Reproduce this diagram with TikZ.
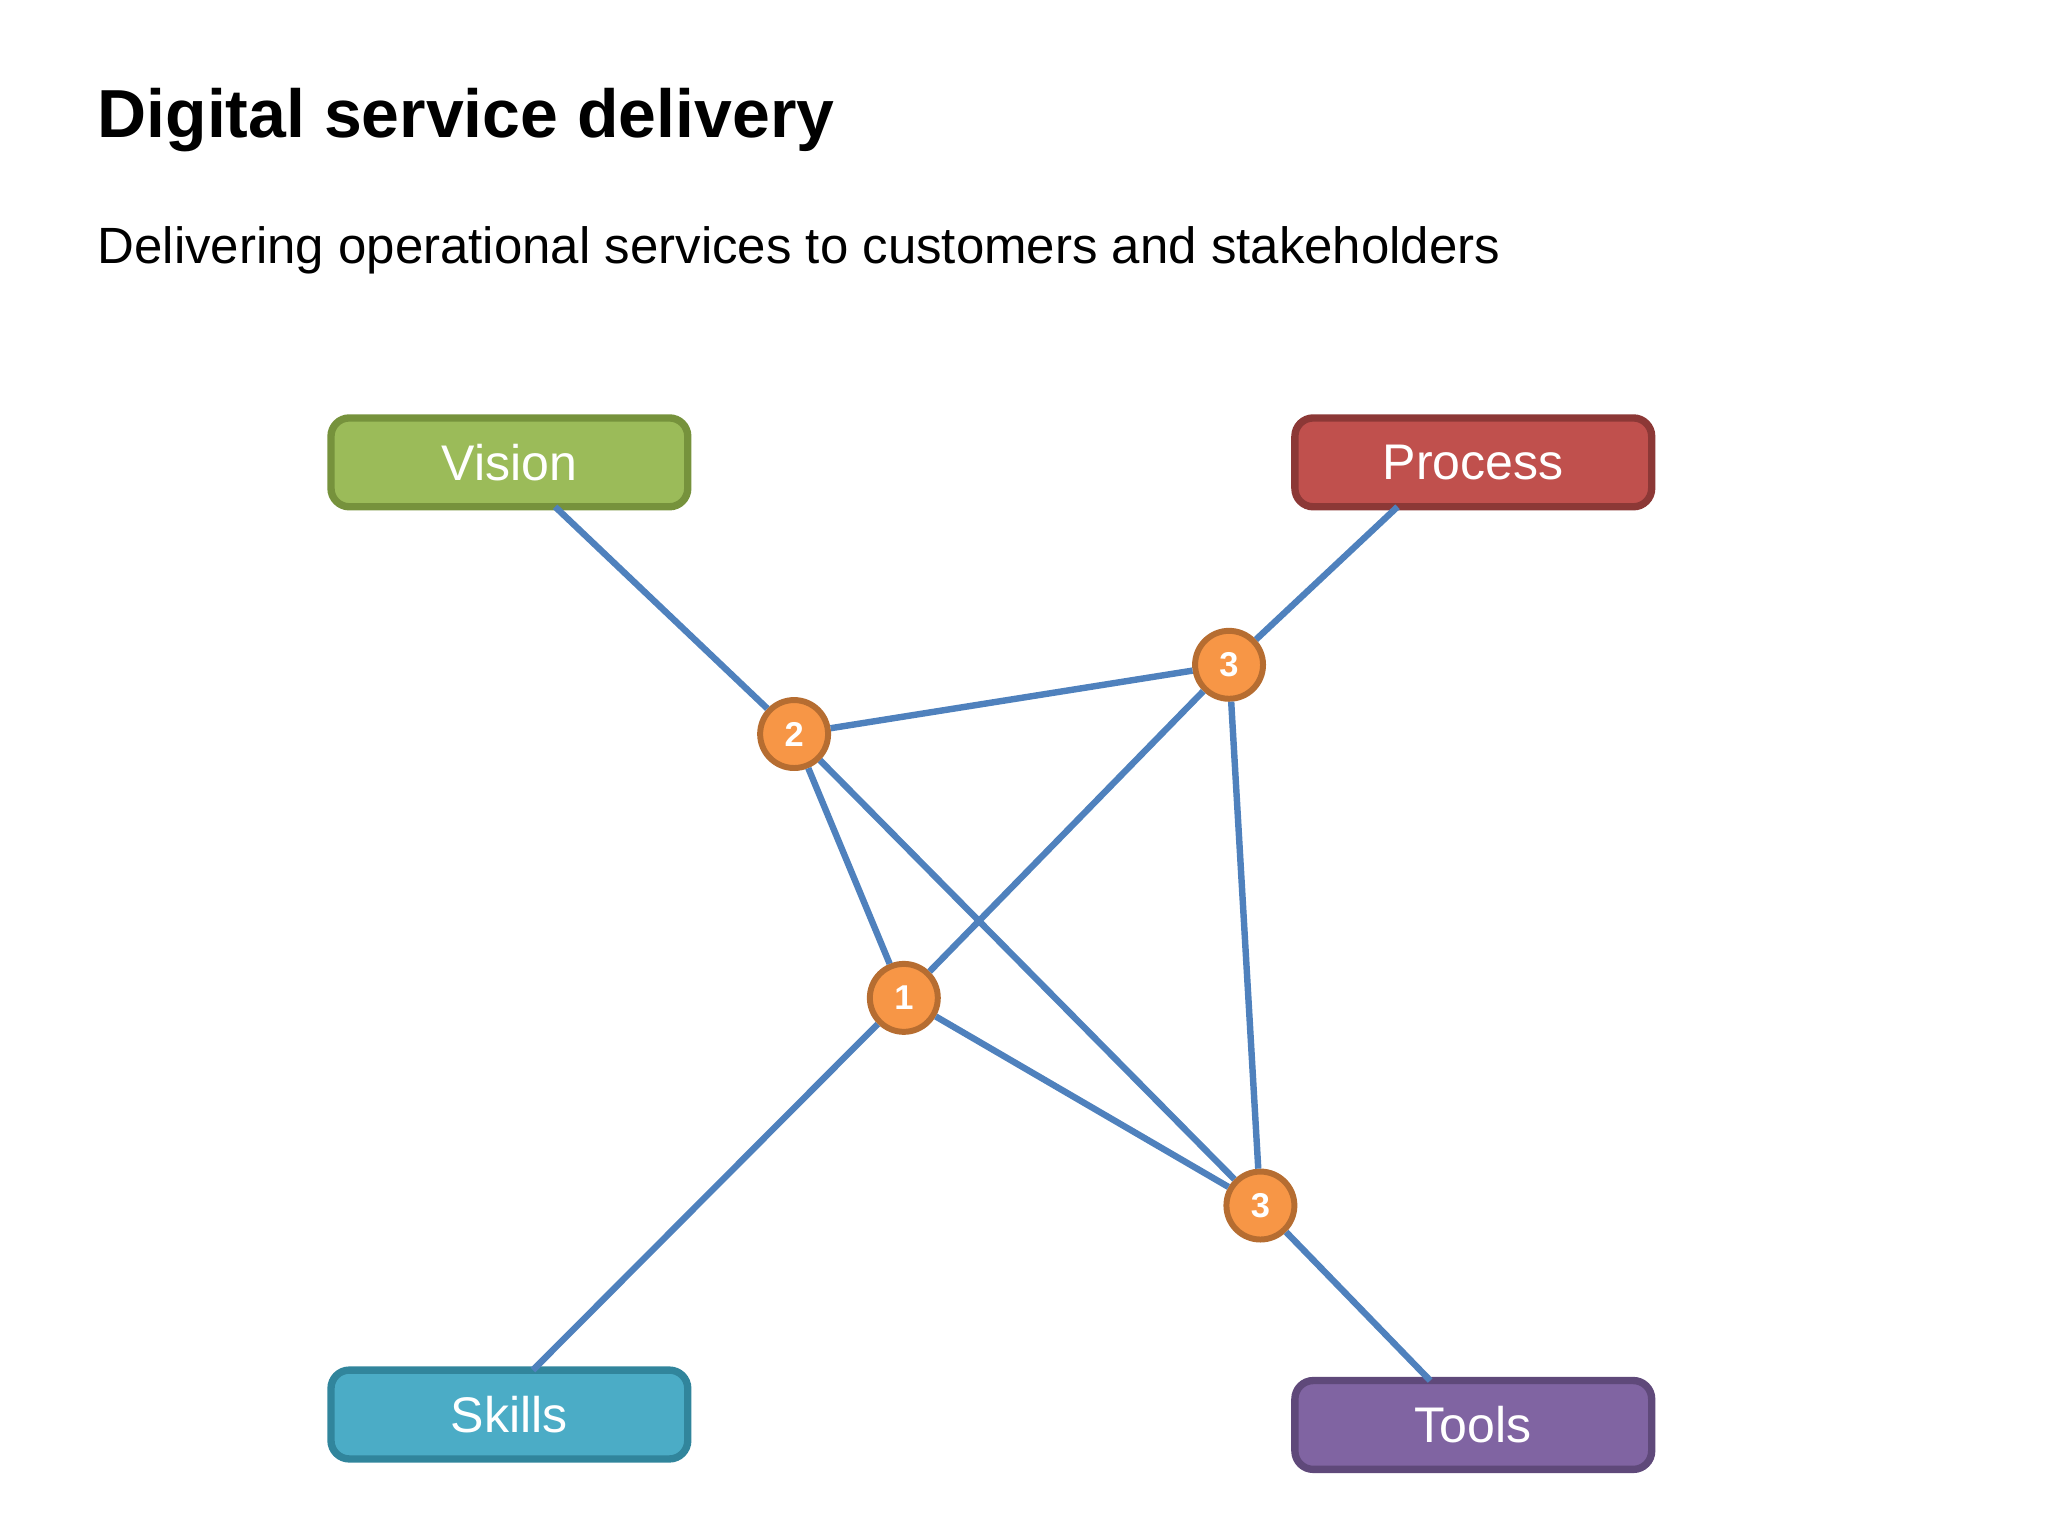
\documentclass[tikz,border=0pt]{standalone}
\usepackage{fontspec}
\setmainfont{Liberation Sans}
\begin{document}
\begin{tikzpicture}[x=0.01cm,y=-0.01cm,
 box/.style={rounded corners=4pt,minimum width=2.73cm,minimum height=0.68cm,line width=1.6pt,text=white,font=\fontsize{10.9}{13}\selectfont},
 num/.style={circle,fill=orangeF,draw=orangeD,line width=1.3pt,minimum size=0.52cm,inner sep=0pt,text=white,font=\bfseries\fontsize{7.5}{9}\selectfont},
 con/.style={draw=lineB,line width=1.4pt}]
\definecolor{orangeF}{HTML}{F79646}\definecolor{orangeD}{HTML}{B66D31}
\definecolor{lineB}{HTML}{4F81BD}
\useasboundingbox (0,0) rectangle (1568,1176);
\node[anchor=base west,inner sep=0pt,font=\bfseries\fontsize{14.8}{18}\selectfont] (title) at (74,105) {Digital service delivery};
\node[anchor=base west,inner sep=0pt,font=\fontsize{11.1}{14}\selectfont] (sub) at (74,202) {Delivering operational services to customers and stakeholders};
\node[box,fill={rgb,255:red,155;green,187;blue,89},draw={rgb,255:red,118;green,146;blue,60}] (vision) at (390,354) {Vision};
\node[box,fill={rgb,255:red,192;green,80;blue,77},draw={rgb,255:red,140;green,56;blue,54}] (process) at (1128,354) {Process};
\node[box,fill={rgb,255:red,75;green,172;blue,198},draw={rgb,255:red,49;green,133;blue,156}] (skills) at (390,1083) {Skills};
\node[box,fill={rgb,255:red,128;green,100;blue,162},draw={rgb,255:red,95;green,73;blue,122}] (tools) at (1128,1091) {Tools};
\node[num] (n2) at (608,562) {2};
\node[num] (n3a) at (941,509) {3};
\node[num] (n1) at (692,764) {1};
\node[num] (n3b) at (965,923) {3};
\coordinate (vb) at (425,388);
\coordinate (pb) at (1070,388);
\coordinate (sb) at (408,1049);
\coordinate (tb) at (1095,1057);
\draw[con] (vb) -- (n2);
\draw[con] (n2) -- (n3b);
\draw[con] (n3b) -- (tb);
\draw[con] (pb) -- (n3a);
\draw[con] (n3a) -- (n1);
\draw[con] (n1) -- (sb);
\draw[con] (n2) -- (n3a);
\draw[con] (n2) -- (n1);
\draw[con] (n1) -- (n3b);
\draw[con] (n3a) -- (n3b);
\end{tikzpicture}
\end{document}
